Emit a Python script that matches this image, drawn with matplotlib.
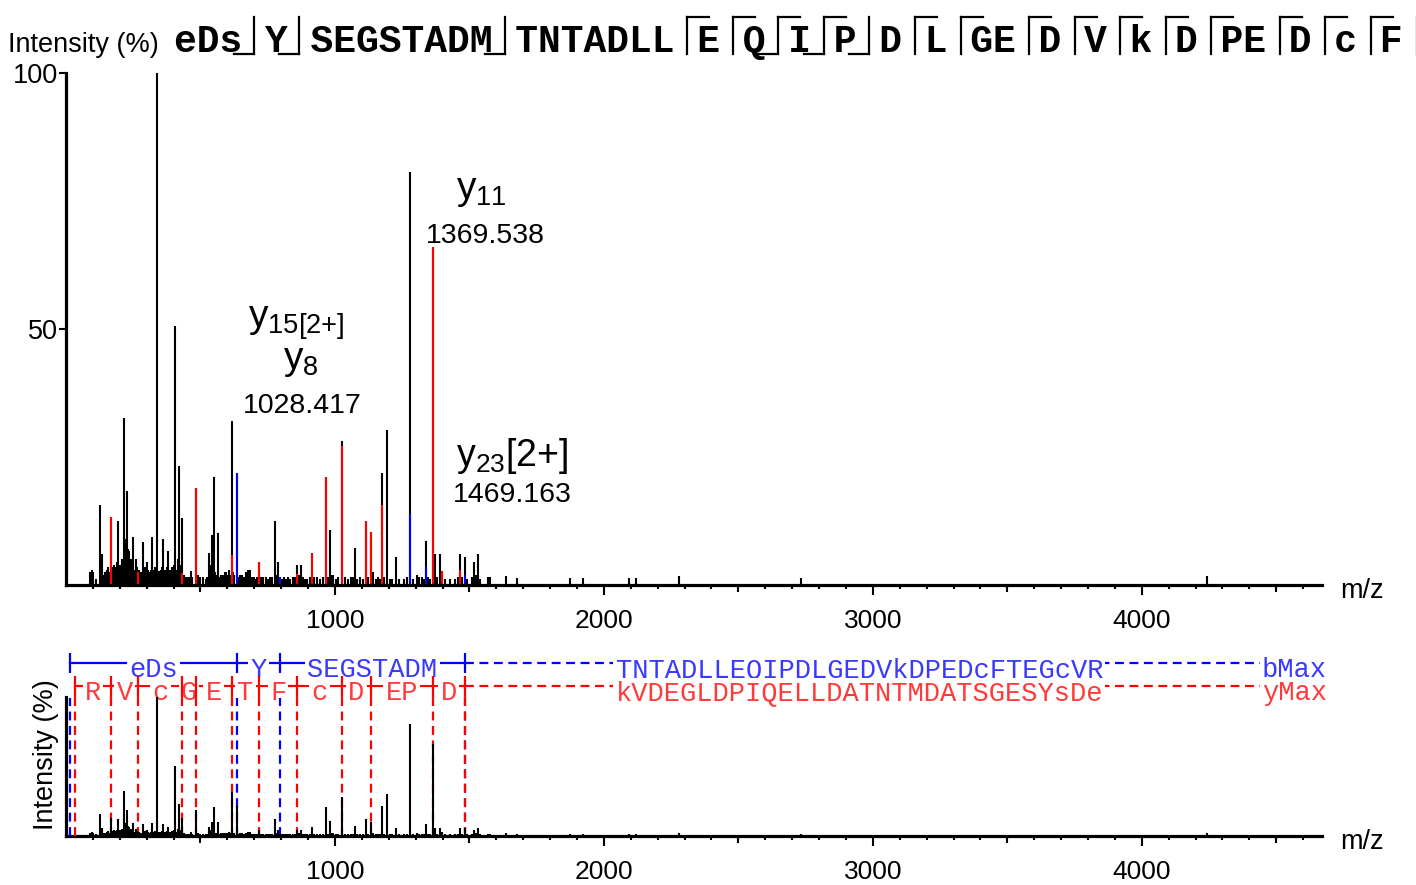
import matplotlib
matplotlib.use("Agg")
import matplotlib.pyplot as plt
import numpy as np
from matplotlib.lines import Line2D
from matplotlib.ticker import FixedLocator

plt.rcParams["font.family"] = ["Liberation Sans", "DejaVu Sans"]
plt.rcParams["mathtext.fontset"] = "custom"
plt.rcParams["mathtext.rm"] = "Liberation Sans"
plt.rcParams["mathtext.it"] = "Liberation Sans:italic"

W, H = 1416, 885

# (m/z, relative intensity %)
spectrum = [
    (89, 2.5), (97, 3.0), (102, 2.5), (110, 1.2), (126, 15.6), (133, 6.0), (141, 2.0), (146, 2.5),
    (152, 3.0), (158, 3.5), (163, 2.5), (167, 13.3), (172, 3.0), (175, 3.5), (180, 4.0), (186, 3.5),
    (190, 4.5), (194, 12.5), (199, 4.0), (204, 3.0), (208, 5.0), (212, 4.5), (217, 32.6), (221, 9.0),
    (226, 18.4), (230, 7.0), (234, 6.6), (238, 4.0), (242, 5.0), (246, 3.5), (250, 9.4), (254, 3.0),
    (259, 5.0), (264, 3.5), (269, 2.5), (273, 3.0), (278, 2.5), (285, 8.4), (289, 3.0), (294, 3.5),
    (298, 3.0), (302, 4.5), (306, 3.0), (311, 2.5), (316, 3.0), (321, 9.4), (326, 3.0), (331, 3.5),
    (337, 100.0), (342, 2.0), (347, 2.7), (352, 3.0), (357, 3.5), (362, 8.9), (367, 3.0), (372, 3.0),
    (376, 3.5), (380, 6.6), (385, 3.0), (390, 2.7), (395, 3.5), (400, 4.0), (405, 50.6), (410, 3.0),
    (415, 5.0), (421, 23.2), (426, 4.0), (430, 13.0), (432, 2.3), (437, 2.0), (443, 1.5), (451, 1.5),
    (458, 1.5), (464, 2.8), (470, 1.5), (482, 19.0), (491, 2.0), (500, 1.5), (510, 1.5), (519, 1.2),
    (526, 1.5), (532, 6.2), (537, 4.0), (542, 9.8), (546, 3.5), (550, 21.0), (555, 2.5), (560, 2.0),
    (566, 10.2), (572, 1.5), (578, 2.0), (584, 2.0), (590, 2.5), (595, 2.5), (600, 2.0), (606, 3.0),
    (611, 2.0), (616, 32.0), (621, 2.5), (626, 2.0), (635, 21.8), (641, 1.5), (647, 2.0), (654, 2.0),
    (661, 1.5), (668, 2.5), (677, 3.0), (684, 3.0), (690, 1.5), (698, 1.5), (705, 1.2), (712, 1.5),
    (719, 4.5), (726, 1.5), (732, 1.5), (743, 1.5), (751, 1.2), (758, 1.5), (765, 1.5), (777, 12.5),
    (782, 2.0), (787, 4.5), (796, 1.5), (803, 1.2), (810, 1.5), (817, 1.2), (825, 1.5), (833, 1.2),
    (844, 1.5), (852, 1.5), (859, 4.0), (865, 2.0), (872, 4.0), (880, 1.5), (888, 1.2), (897, 1.2),
    (906, 1.5), (913, 6.3), (922, 1.5), (932, 1.5), (943, 1.2), (954, 1.5), (965, 21.0), (973, 1.5),
    (981, 10.7), (988, 2.0), (994, 2.0), (1003, 1.2), (1012, 1.5), (1025, 28.1), (1036, 1.5),
    (1047, 1.2), (1058, 1.5), (1066, 1.5), (1074, 7.2), (1083, 1.2), (1093, 1.5), (1104, 1.2),
    (1115, 12.5), (1124, 1.5), (1134, 10.3), (1142, 2.5), (1151, 1.2), (1160, 1.5), (1168, 1.2),
    (1176, 21.8), (1184, 1.5), (1194, 30.3), (1203, 1.2), (1212, 1.2), (1227, 5.5), (1240, 1.2),
    (1255, 1.2), (1268, 1.5), (1279, 80.7), (1290, 1.2), (1305, 2.0), (1314, 1.5), (1322, 1.5),
    (1330, 1.2), (1338, 8.5), (1346, 1.5), (1354, 1.2), (1363, 66.0), (1372, 6.0), (1381, 1.5),
    (1390, 6.0), (1399, 2.7), (1410, 1.2), (1428, 1.2), (1447, 1.2), (1457, 1.5), (1465, 6.0),
    (1474, 1.5), (1483, 5.5), (1492, 1.2), (1508, 1.5), (1517, 4.5), (1525, 2.0), (1532, 6.0),
    (1540, 1.2), (1569, 1.5), (1576, 1.5), (1636, 1.8), (1677, 1.4), (1874, 1.4), (1922, 1.4),
    (2093, 1.4), (2119, 1.4), (2279, 1.8), (2732, 1.4), (4242, 1.8),
]
peak_mz = [p[0] for p in spectrum]
peak_int = [p[1] for p in spectrum]

# matched fragment peaks (coloured part of the stick)
matched_mz = [167, 269, 432, 482, 616, 635, 719, 796, 859, 913, 965, 1025, 1115, 1134,
              1176, 1279, 1338, 1363, 1399, 1465, 1483]
matched_int = [13.3, 2.5, 2.3, 19.0, 5.8, 21.8, 4.5, 1.5, 2.2, 6.3, 21.0, 27.2, 12.5, 10.3,
               15.6, 13.9, 3.5, 66.0, 2.7, 3.0, 2.0]
matched_kind = ["y", "y", "y", "y", "y", "b", "y", "b", "y", "y", "y", "y", "y", "y",
                "y", "b", "b", "y", "y", "y", "b"]

# ion ladders
b_mz = [15, 635, 796, 1483]
b_res = ["eDs", "Y", "SEGSTADM"]
b_rest = "TNTADLLEQIPDLGEDVkDPEDcFTEGcVR"
y_mz = [33, 167, 269, 432, 482, 616, 719, 859, 1025, 1134, 1363, 1483]
y_res = ["R", "V", "c", "G", "E", "T", "F", "c", "D", "EP", "D"]
y_rest = "kVDEGLDPIQELLDATNTMDATSGESYsDe"

# visible part of the sequence header (it runs off the right edge after F)
header_groups = ["eDs", "Y", "SEGSTADM", "TNTADLL", "E", "Q", "I", "P", "D", "L", "GE", "D", "V",
                 "k", "D", "PE", "D", "c", "F"]
header_cuts = ["b", "b", "b", "y", "y", "by", "by", "b", "y", "y", "y", "y", "y", "y", "y", "y",
               "y", "y", "y"]

peak_labels = [r"$\mathrm{y_{11}}$", "1369.538", r"$\mathrm{y_{15[2{+}]}}$", r"$\mathrm{y_{8}}$",
               "1028.417", r"$\mathrm{y_{23}[2{+}]}$", "1469.163"]
label_xy = [(1546, 77.0), (1558, 68.2), (856, 51.2), (874, 43.8), (877, 35.0), (1658, 25.2), (1658, 17.6)]
label_size = [28, 20.5, 28, 28, 20.5, 27, 20.5]

colors = {"b": "blue", "y": "red"}
text_colors = {"b": "#3a3aff", "y": "#ff3a3a"}
XMAX = 4670

fig = plt.figure(figsize=(W / 100, H / 100), dpi=100)
ax1 = fig.add_axes([66 / W, 300 / H, 1256 / W, 512 / H])
ax2 = fig.add_axes([66 / W, 49 / H, 1256 / W, 130 * 1.39 / H])


def style_axis(ax):
    ax.set_xlim(0, XMAX)
    ax.spines[["top", "right"]].set_visible(False)
    for s in ("left", "bottom"):
        ax.spines[s].set_linewidth(2.3)
    ax.xaxis.set_major_locator(FixedLocator([1000, 2000, 3000, 4000]))
    ax.xaxis.set_minor_locator(FixedLocator(np.arange(100, XMAX, 100)))
    ax.tick_params(axis="x", which="major", length=7.5, width=1.5, labelsize=19, pad=9.5)
    ax.tick_params(axis="x", which="minor", length=3, width=1.5)
    half = np.arange(500, XMAX, 1000)
    ax.plot(half, np.zeros_like(half), ls="none", marker=3, ms=5, mew=1.5,
            color="black", clip_on=False, zorder=6)
    ax.patch.set_alpha(0)


style_axis(ax1)
style_axis(ax2)

# top: annotated spectrum
ax1.set_ylim(0, 100)
ax1.set_yticks([50, 100])
ax1.tick_params(axis="y", length=5, width=1.5, labelsize=19.5, pad=0.5)
ax1.vlines(peak_mz, 0, peak_int, color="black", lw=1.5)
ax1.vlines(matched_mz, 0, matched_int, color=[colors[k] for k in matched_kind], lw=1.5)
for txt, (x, y), fs in zip(peak_labels, label_xy, label_size):
    ax1.text(x, y, txt, fontsize=fs, ha="center", va="center", clip_on=False)

# bottom: spectrum with ion ladders
ax2.set_ylim(0, 130)
ax2.spines["left"].set_bounds(0, 100)
ax2.set_yticks([])
ax2.vlines(peak_mz, 0, peak_int, color="black", lw=1.5, zorder=5)

mono = "Liberation Mono"
dash = (0, (4, 2.5))
for kind, mzs, res, rest, ly, base, tag in [
    ("b", b_mz, b_res, b_rest, 124.5, 114.6, "bMax"),
    ("y", y_mz, y_res, y_rest, 107.6, 97.6, "yMax"),
]:
    c, tc = colors[kind], text_colors[kind]
    ax2.plot([mzs[0], mzs[-1]], [ly, ly], color=c, lw=1.6, clip_on=False, zorder=2)
    ax2.plot([mzs[-1], 4440], [ly, ly], color=c, lw=1.6, ls=dash, clip_on=False, zorder=2)
    ax2.vlines(mzs, ly - 7.5, ly + 7.5, color=c, lw=1.6, clip_on=False, zorder=4)
    ax2.vlines(mzs, 0, ly - 7.5 if kind == "y" else 99, color=c, lw=1.6, ls=dash,
               clip_on=False, zorder=4)
    for i, r in enumerate(res):
        ax2.text((mzs[i] + mzs[i + 1]) / 2, base, r, family=mono, fontsize=19.5, color=tc,
                 ha="center", va="baseline", zorder=3, clip_on=False,
                 bbox=dict(fc="white", ec="none", pad=1.5))
    ax2.text(2950, base, rest, family=mono, fontsize=19.5, color=tc, ha="center", va="baseline",
             zorder=3, clip_on=False, bbox=dict(fc="white", ec="none", pad=1.5))
    ax2.text(4446, base, tag, family=mono, fontsize=19.5, color=tc, ha="left", va="baseline",
             zorder=3, clip_on=False)

# axis captions
fig.text(8 / W, 1 - 45 / H, "Intensity (%)", fontsize=19.5, ha="left", va="center")
fig.text(46 / W, 1 - 755 / H, "Intensity (%)", fontsize=19.5, ha="center", va="center",
         rotation=90)
fig.text(1340 / W, 1 - 591 / H, "m/z", fontsize=19.5, ha="left", va="center")
fig.text(1340 / W, 1 - 842 / H, "m/z", fontsize=19.5, ha="left", va="center")

# sequence header with fragmentation marks
cw = 22.8
x0, base_y = 174, 52
fig.text(x0 / W, 1 - base_y / H, " ".join(header_groups), family=mono, fontweight="bold",
         fontsize=cw / 0.6 * 0.72, ha="left", va="baseline")
pos = 0
for g, cut in zip(header_groups, header_cuts):
    pos += len(g)
    cx = x0 + (pos + 0.5) * cw
    segs = [([cx, cx], [17, 54])]
    if "b" in cut:
        segs.append(([cx - 20, cx], [54, 54]))
    if "y" in cut:
        segs.append(([cx, cx + 22], [17, 17]))
    for xs, ys in segs:
        fig.add_artist(Line2D([x / W for x in xs], [1 - y / H for y in ys], color="black",
                              lw=1.6, transform=fig.transFigure))
    pos += 1

fig.savefig("out.png", dpi=100)
